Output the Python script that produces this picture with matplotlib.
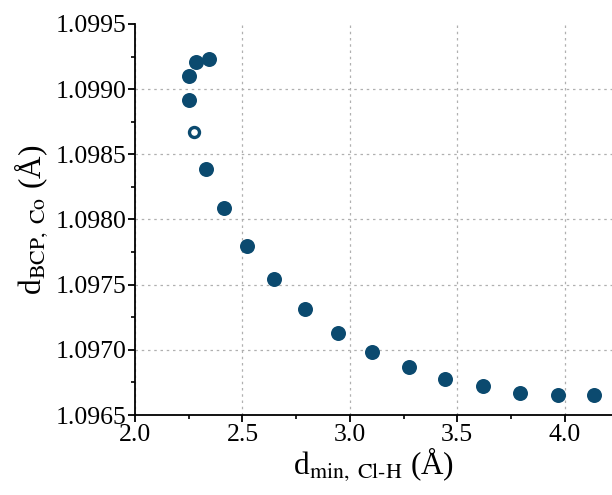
import numpy as np
import matplotlib.pyplot as plt
from matplotlib.ticker import MultipleLocator

# minimum Cl-H distance vs. BCP distance from Co
d_clh = [2.251, 2.251, 2.284, 2.345, 2.330, 2.415, 2.520, 2.646, 2.790, 2.943,
         3.104, 3.273, 3.445, 3.619, 3.794, 3.967, 4.138]
d_bcp = [1.09892, 1.09910, 1.09921, 1.09923, 1.09839, 1.09809, 1.09780, 1.09754,
         1.09731, 1.09713, 1.09698, 1.09687, 1.09678, 1.09672, 1.09667, 1.09665,
         1.09665]

# the open point
open_x = [2.274]
open_y = [1.09867]

plt.rcParams['font.family'] = ['Liberation Serif', 'DejaVu Serif']
plt.rcParams['mathtext.fontset'] = 'stix'

blue = '#0b4a6f'

fig = plt.figure(figsize=(6.12, 4.95), dpi=100)
ax = fig.add_axes([0.2206, 0.1616, 0.7794, 0.79])

ax.plot(d_clh, d_bcp, 'o', color=blue, markersize=10.8, markeredgewidth=0, zorder=3)
ax.plot(open_x, open_y, 'o', markerfacecolor='white', markeredgecolor=blue,
        markersize=7.2, markeredgewidth=2.4, zorder=3)

ax.set_xlim(2.0, 4.22)
ax.set_ylim(1.0965, 1.0995)
ax.xaxis.set_major_locator(MultipleLocator(0.5))
ax.xaxis.set_minor_locator(MultipleLocator(0.25))
ax.yaxis.set_major_locator(MultipleLocator(0.0005))
ax.yaxis.set_minor_locator(MultipleLocator(0.00025))
ax.xaxis.set_major_formatter(plt.FormatStrFormatter('%.1f'))
ax.yaxis.set_major_formatter(plt.FormatStrFormatter('%.4f'))

for s in ['top', 'right']:
    ax.spines[s].set_visible(False)
for s in ['left', 'bottom']:
    ax.spines[s].set_linewidth(1.3)

ax.tick_params(which='major', direction='out', length=4.8, width=1.3, labelsize=18.5,
               color='black', pad=1.5)
ax.tick_params(which='minor', direction='out', length=3, width=1.2)

ax.grid(True, which='major', linestyle=(0, (2, 3)), color='#b0b0b0', linewidth=0.9)
for line, v in zip(ax.yaxis.get_gridlines(), ax.get_yticks()):
    if v >= 1.09949:
        line.set_visible(False)
ax.set_axisbelow(True)

ax.set_xlabel(r'd$_{\mathrm{min,\ Cl\text{-}H}}$ (Å)', fontsize=22.5, labelpad=0)
ax.set_ylabel(r'd$_{\mathrm{BCP,\ Co}}$ (Å)', fontsize=22.5, labelpad=4)

fig.savefig('out.png', dpi=100)
